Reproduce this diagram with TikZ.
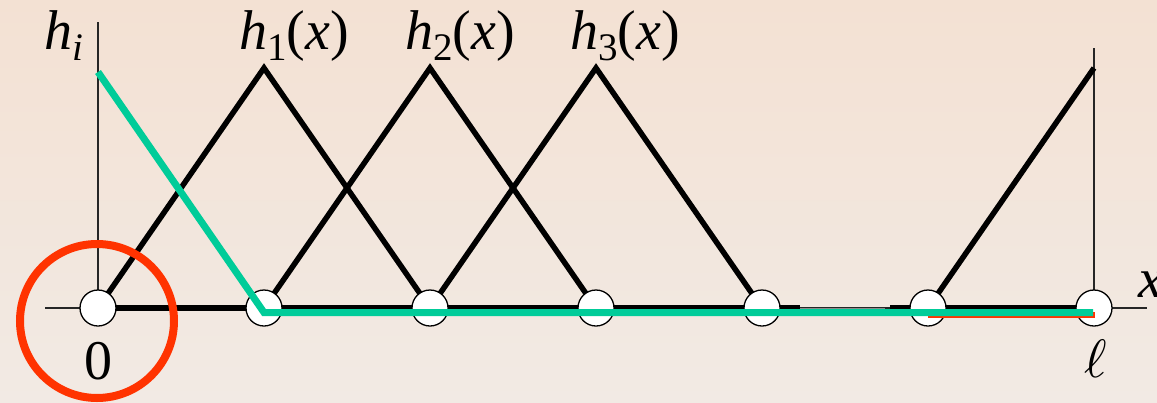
\documentclass[tikz,border=0pt]{standalone}
\usepackage{fontspec}
\setmainfont{Liberation Serif}
\definecolor{bgtop}{RGB}{243,225,211}
\definecolor{bgbot}{RGB}{242,234,228}
\definecolor{tealgreen}{RGB}{0,204,153}
\definecolor{redorange}{RGB}{255,51,0}
\tikzset{
  thinaxis/.style={line width=1.4pt, black!85},
  hatline/.style={line width=5.5pt, black},
  dof/.style={circle, draw=black, line width=1.3pt, fill=white, minimum size=36pt, inner sep=0pt},
  greenline/.style={line width=7pt, tealgreen},
  orangeline/.style={line width=6pt, redorange},
  lbl/.style={font=\fontsize{56}{64}\selectfont, inner sep=0pt},
}
\newcommand{\subsz}{\fontsize{39}{44}\selectfont}
\begin{document}
\begin{tikzpicture}[x=1pt,y=-1pt]
\shade[top color=bgtop, bottom color=bgbot] (0,0) rectangle (1157,402);
\useasboundingbox (0,0) rectangle (1157,402);
% coordinates
\coordinate (axL) at (45,308);
\coordinate (axR) at (1147,308);
\coordinate (vtop) at (98,22);
\coordinate (vtopR) at (1094,48);
\coordinate (p1) at (264,68);
\coordinate (p2) at (430,68);
\coordinate (p3) at (596,68);
\coordinate (p6) at (1094,68);
\coordinate (b1) at (800,308);
\coordinate (b2) at (885,308);
\coordinate (b3) at (890,308);
\coordinate (gs) at (98,72);
\coordinate (g1) at (264,312.5);
\coordinate (g6) at (1093,312.5);
\coordinate (o5) at (928,315);
\coordinate (o6) at (1095,315);
% axes
\draw[thinaxis] (axL) -- (axR);
\draw[thinaxis] (vtop) -- (98,308);
\draw[thinaxis] (vtopR) -- (1094,308);
% hat functions
\draw[hatline] (98,308) -- (p1) -- (430,308);
\draw[hatline] (264,308) -- (p2) -- (596,308);
\draw[hatline] (430,308) -- (p3) -- (762,308);
\draw[hatline] (928,308) -- (p6);
\draw[hatline] (98,308) -- (b1);
\draw[line width=1pt, black!45] (b1) -- (b2);
\draw[hatline] (b3) -- (1094,308);
% nodes
\node[dof] (n0) at (98,308) {};
\node[dof] (n1) at (264,308) {};
\node[dof] (n2) at (430,308) {};
\node[dof] (n3) at (596,308) {};
\node[dof] (n4) at (762,308) {};
\node[dof] (n5) at (928,308) {};
\node[dof] (n6) at (1094,308) {};
% orange and green
\draw[orangeline] (o5) -- (o6);
\draw[greenline, line join=miter] (gs) -- (g1) -- (g6);
% red circle
\node[circle, draw=redorange, line width=8pt, minimum size=154pt, inner sep=0pt] (zc) at (97,321) {};
% labels
\node[lbl, anchor=base] (lhi) at (64,49) {\textit{h}\raisebox{-0.2em}{\subsz\textit{i}}};
\node[lbl, anchor=base] (lh1) at (294,49) {\textit{h}\raisebox{-0.2em}{\subsz 1}(\textit{x})};
\node[lbl, anchor=base] (lh2) at (460,49) {\textit{h}\raisebox{-0.2em}{\subsz 2}(\textit{x})};
\node[lbl, anchor=base] (lh3) at (625,49) {\textit{h}\raisebox{-0.2em}{\subsz 3}(\textit{x})};
\node[lbl, anchor=base] (l0) at (98,379) {0};
\node[inner sep=0pt, anchor=base] (lell) at (1096,377) {\scalebox{5.4}{$\ell$}};
\node[lbl, anchor=base west] (lx) at (1138,297) {\textit{x}};
\end{tikzpicture}
\end{document}
